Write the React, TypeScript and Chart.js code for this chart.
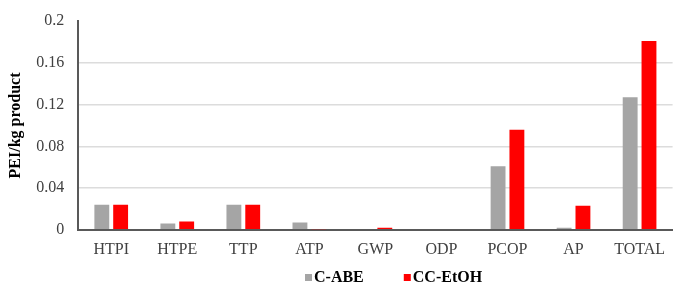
import React, { useEffect, useRef } from "react";
import { Chart, registerables } from "chart.js";

Chart.register(...registerables);

const categories = ["HTPI", "HTPE", "TTP", "ATP", "GWP", "ODP", "PCOP", "AP", "TOTAL"];
const seriesNames = ["C-ABE", "CC-EtOH"];
const cAbe = [0.024, 0.006, 0.024, 0.007, 0, 0, 0.061, 0.002, 0.127];
const ccEtoh = [0.024, 0.008, 0.024, 0.0005, 0.002, 0, 0.096, 0.023, 0.181];
const yTicks = [0, 0.04, 0.08, 0.12, 0.16, 0.2];
const colors = ["#a5a5a5", "#ff0000"];

const FONT = "'Liberation Serif', 'Times New Roman', serif";

const legendPlugin = {
  id: "bottomLegend",
  afterDraw(chart: any) {
    const ctx = chart.ctx;
    const ds = chart.data.datasets;
    ctx.save();
    ctx.font = `bold 16px ${FONT}`;
    ctx.textBaseline = "middle";
    ctx.textAlign = "left";
    const y = 278;
    let x = 305;
    ds.forEach((d: any) => {
      ctx.fillStyle = d.backgroundColor;
      ctx.fillRect(x, y - 4, 7, 7);
      x += 9;
      ctx.fillStyle = "#000";
      ctx.fillText(d.label, x, y);
      x += ctx.measureText(d.label).width + 40;
    });
    ctx.restore();
  },
};

export default function App() {
  const ref = useRef<HTMLCanvasElement>(null);
  useEffect(() => {
    document.body.style.margin = "0";
    const chart = new Chart(ref.current!, {
      type: "bar",
      data: {
        labels: categories,
        datasets: [
          { label: seriesNames[0], data: cAbe, backgroundColor: colors[0], categoryPercentage: 0.57, barPercentage: 0.79 },
          { label: seriesNames[1], data: ccEtoh, backgroundColor: colors[1], categoryPercentage: 0.57, barPercentage: 0.79 },
        ],
      },
      options: {
        animation: false,
        responsive: false,
        maintainAspectRatio: false,
        layout: { padding: { top: 0, right: 0, left: 2, bottom: 17 } },
        plugins: {
          tooltip: { enabled: false },
          legend: { display: false },
        },
        scales: {
          x: {
            grid: { display: false, drawTicks: false },
            border: { color: "#595959", width: 2 },
            ticks: { color: "#404040", font: { family: FONT, size: 16 }, padding: 10, maxRotation: 0 },
          },
          y: {
            min: 0,
            max: 0.2,
            afterBuildTicks: (axis: any) => {
              axis.ticks = yTicks.map((v) => ({ value: v }));
            },
            grid: {
              color: (ctx: any) => (ctx.tick && ctx.tick.value >= 0.2 ? "rgba(0,0,0,0)" : "#dcdcdc"),
              drawTicks: false,
              lineWidth: 1.5,
            },
            border: { color: "#595959", width: 2 },
            ticks: {
              color: "#404040",
              padding: 14,
              font: { family: FONT, size: 16, lineHeight: 0.9 },
              callback: (v: any) => String(Number(v)),
            },
            title: {
              display: true,
              text: "PEI/kg product",
              color: "#000",
              padding: { top: 4, bottom: -3 },
              font: { family: FONT, size: 16, weight: "bold" },
            },
          },
        },
      },
      plugins: [legendPlugin],
    });
    return () => chart.destroy();
  }, []);
  return (
    <div style={{ position: "relative", width: 675, height: 286 }}>
      <canvas ref={ref} width={675} height={286} style={{ display: "block" }} />
    </div>
  );
}
